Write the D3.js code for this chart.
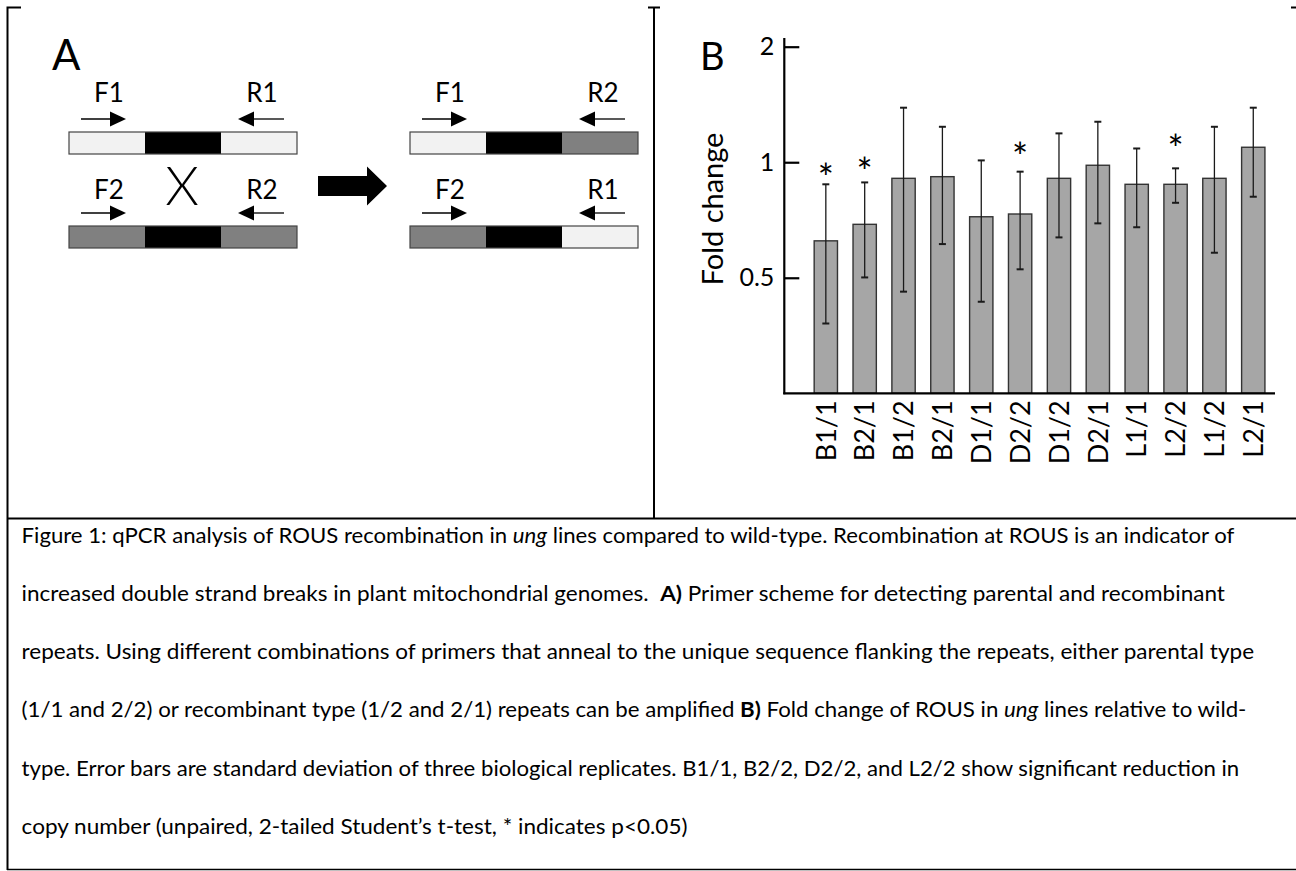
<!DOCTYPE html>
<html lang="en">
  <head>
    <meta charset="utf-8">
    <title>Figure 1: ROUS recombination in ung lines</title>
    <style>
      body {
          margin: 0;
          background: #fff;
      }
      svg {
          display: block;
      }
      text {
          font-family: Lato, "Open Sans", sans-serif;
          fill: #000;
      }
      .caption text {
          white-space: pre;
      }
    </style>
    <script src="https://d3js.org/d3.v7.min.js"></script>
  </head>
  <body>
    <div class="figure"></div>
    <script>

    // panel B values
    const lineLabels = ["B1/1","B2/1","B1/2","B2/1","D1/1","D2/2","D1/2","D2/1","L1/1","L2/2","L1/2","L2/1"];
    const foldChange = [0.624, 0.689, 0.908, 0.917, 0.721, 0.733, 0.908, 0.982, 0.876, 0.876, 0.908, 1.094];
    const errHigh = [0.876, 0.886, 1.387, 1.237, 1.011, 0.945, 1.189, 1.275, 1.086, 0.964, 1.237, 1.387];
    const errLow = [0.380, 0.501, 0.460, 0.612, 0.433, 0.526, 0.637, 0.693, 0.677, 0.784, 0.581, 0.813];
    const starLevel = [0.945, 0.979, null, null, null, 1.069, null, null, null, 1.12, null, null];
    const yTicks = [0.5, 1, 2];

    // panel A scheme
    const parental = [
      { fwd: "F1", rev: "R1", parts: ["unique1", "repeat", "unique1"] },
      { fwd: "F2", rev: "R2", parts: ["unique2", "repeat", "unique2"] }
    ];
    const recombinant = [
      { fwd: "F1", rev: "R2", parts: ["unique1", "repeat", "unique2"] },
      { fwd: "F2", rev: "R1", parts: ["unique2", "repeat", "unique1"] }
    ];

    const caption = [
      [["Figure 1: qPCR analysis of ROUS recombination in "], ["ung", "i"], [" lines compared to wild-type. Recombination at ROUS is an indicator of"]],
      [["increased double strand breaks in plant mitochondrial genomes.  "], ["A)", "b"], [" Primer scheme for detecting parental and recombinant"]],
      [["repeats. Using different combinations of primers that anneal to the unique sequence flanking the repeats, either parental type"]],
      [["(1/1 and 2/2) or recombinant type (1/2 and 2/1) repeats can be amplified "], ["B)", "b"], [" Fold change of ROUS in "], ["ung", "i"], [" lines relative to wild-"]],
      [["type. Error bars are standard deviation of three biological replicates. B1/1, B2/2, D2/2, and L2/2 show significant reduction in"]],
      [["copy number (unpaired, 2-tailed Student\u2019s t-test, * indicates p<0.05)"]]
    ];
    const captionEnds = [1235, 1225, 1254, 1246.7, 1239.3, 687.3];

    const W = 1296, H = 871;

    const svg = d3.select(".figure")
      .append("svg")
      .attr("width", W)
      .attr("height", H);

    // frame
    const frame = svg.append("g")
      .attr("stroke", "#000")
      .attr("fill", "none");

    frame.append("path").attr("d", "M7.5,870V7.5H21").attr("stroke-width", 2);
    frame.append("path").attr("d", "M648,7.5H660M654,7.5V518").attr("stroke-width", 2);
    frame.append("path").attr("d", "M1291,7.5H1296").attr("stroke-width", 2);
    frame.append("path").attr("d", "M7,518.5H1296").attr("stroke-width", 2.2);
    frame.append("path").attr("d", "M7,869.5H1296").attr("stroke-width", 1.6);

    // ---------- panel A ----------
    const a = svg.append("g");

    a.append("text")
      .attr("x", 52)
      .attr("y", 70)
      .style("font-size", "42px")
      .text("A");

    const partColor = d3.scaleOrdinal()
      .domain(["unique1", "repeat", "unique2"])
      .range(["#f2f2f2", "#000000", "#808080"]);

    const strandLen = 228;
    const rowTop = [132, 226];
    const rowLabel = [102, 199];

    const arrowHead = (x, y, dir) => {
      const len = 16, half = 7.5;
      return `M${x},${y}L${x - dir * len},${y - half}L${x - dir * len},${y + half}Z`;
    };

    const drawStrands = (data, x0) => {
      const seg = d3.scaleBand()
        .domain(d3.range(3))
        .range([x0, x0 + strandLen]);

      data.forEach((s, r) => {
        const g = a.append("g");
        const yTop = rowTop[r];

        g.selectAll("rect")
          .data(s.parts)
          .join("rect")
          .attr("x", (d, i) => seg(i))
          .attr("y", yTop)
          .attr("width", seg.bandwidth())
          .attr("height", 22)
          .attr("fill", d => partColor(d));

        g.append("rect")
          .attr("x", x0)
          .attr("y", yTop)
          .attr("width", strandLen)
          .attr("height", 22)
          .attr("fill", "none")
          .attr("stroke", "#444")
          .attr("stroke-width", 1.2);

        const ay = yTop - 13;
        // forward primer
        g.append("line")
          .attr("x1", x0 + 12).attr("x2", x0 + 46)
          .attr("y1", ay).attr("y2", ay)
          .attr("stroke", "#000").attr("stroke-width", 1.5);
        g.append("path").attr("d", arrowHead(x0 + 57, ay, 1)).attr("fill", "#000");
        // reverse primer
        g.append("line")
          .attr("x1", x0 + 181).attr("x2", x0 + 215)
          .attr("y1", ay).attr("y2", ay)
          .attr("stroke", "#222").attr("stroke-width", 1.5);
        g.append("path").attr("d", arrowHead(x0 + 169, ay, -1)).attr("fill", "#000");

        g.append("text")
          .attr("x", x0 + 40)
          .attr("y", rowLabel[r])
          .attr("text-anchor", "middle")
          .style("font-size", "26px")
          .text(s.fwd);
        g.append("text")
          .attr("x", x0 + 193)
          .attr("y", rowLabel[r])
          .attr("text-anchor", "middle")
          .style("font-size", "26px")
          .text(s.rev);
      });
    };

    drawStrands(parental, 69);
    drawStrands(recombinant, 410);

    a.append("text")
      .attr("x", 182)
      .attr("y", 205)
      .attr("text-anchor", "middle")
      .style("font-size", "54px")
      .style("font-weight", 300)
      .text("X");

    a.append("path")
      .attr("d", "M318,176H367V166.5L387,186L367,205.5V196H318Z")
      .attr("fill", "#000");

    // ---------- panel B ----------
    const b = svg.append("g");

    b.append("text")
      .attr("x", 700)
      .attr("y", 70)
      .style("font-size", "38px")
      .text("B");

    const x = d3.scaleBand()
      .domain(d3.range(lineLabels.length))
      .range([806.4, 1272.7])
      .paddingInner(0.4)
      .paddingOuter(0.2);

    const y = d3.scaleLog()
      .base(2)
      .domain([0.25, 2])
      .range([393.3, 46.7]);

    const axisX0 = 784.3;

    // bars
    b.append("g")
      .selectAll("rect")
      .data(foldChange)
      .join("rect")
      .attr("x", (d, i) => x(i))
      .attr("y", d => y(d))
      .attr("width", x.bandwidth())
      .attr("height", d => y(0.25) - y(d))
      .attr("fill", "#a6a6a6")
      .attr("stroke", "#333")
      .attr("stroke-width", 1.4);

    // error bars
    const err = b.append("g")
      .attr("stroke", "#1a1a1a");

    err.selectAll("line.whisker")
      .data(foldChange)
      .join("line")
      .attr("class", "whisker")
      .attr("x1", (d, i) => x(i) + x.bandwidth() / 2)
      .attr("x2", (d, i) => x(i) + x.bandwidth() / 2)
      .attr("y1", (d, i) => y(errLow[i]))
      .attr("y2", (d, i) => y(errHigh[i]))
      .attr("stroke-width", 1.3);

    err.selectAll("line.capHigh")
      .data(errHigh)
      .join("line")
      .attr("class", "capHigh")
      .attr("x1", (d, i) => x(i) + x.bandwidth() / 2 - 3.5)
      .attr("x2", (d, i) => x(i) + x.bandwidth() / 2 + 3.5)
      .attr("y1", d => y(d))
      .attr("y2", d => y(d))
      .attr("stroke-width", 2);

    err.selectAll("line.capLow")
      .data(errLow)
      .join("line")
      .attr("class", "capLow")
      .attr("x1", (d, i) => x(i) + x.bandwidth() / 2 - 3.5)
      .attr("x2", (d, i) => x(i) + x.bandwidth() / 2 + 3.5)
      .attr("y1", d => y(d))
      .attr("y2", d => y(d))
      .attr("stroke-width", 2);

    // significance stars
    b.append("g")
      .selectAll("text")
      .data(starLevel.map((v, i) => ({ v, i })).filter(d => d.v !== null))
      .join("text")
      .attr("x", d => x(d.i) + x.bandwidth() / 2)
      .attr("y", d => y(d.v) + 20)
      .attr("text-anchor", "middle")
      .style("font-size", "38px")
      .text("*");

    // y axis
    const yAxis = d3.axisLeft(y)
      .tickValues(yTicks)
      .tickFormat(d => d)
      .tickSizeInner(-15)
      .tickSizeOuter(0)
      .tickPadding(10);

    const yg = b.append("g")
      .attr("transform", `translate(${axisX0},0)`)
      .call(yAxis);

    yg.select(".domain").remove();
    yg.selectAll(".tick line").attr("stroke", "#000").attr("stroke-width", 2.2);
    yg.selectAll(".tick text")
      .attr("fill", "#000")
      .style("font-family", "Lato, sans-serif")
      .style("font-size", "25px");

    b.append("line")
      .attr("x1", axisX0).attr("x2", axisX0)
      .attr("y1", 38).attr("y2", y(0.25) + 1)
      .attr("stroke", "#000")
      .attr("stroke-width", 2.2);

    // x axis
    const xAxis = d3.axisBottom(x)
      .tickFormat(i => lineLabels[i])
      .tickSize(0);

    const xg = b.append("g")
      .attr("transform", `translate(0,${y(0.25)})`)
      .call(xAxis);

    xg.select(".domain").remove();
    xg.selectAll(".tick text")
      .attr("transform", "rotate(-90)")
      .attr("text-anchor", "end")
      .attr("x", -7)
      .attr("y", 0)
      .attr("dy", "0.36em")
      .attr("fill", "#000")
      .style("font-family", "Lato, sans-serif")
      .style("font-size", "27px");

    b.append("line")
      .attr("x1", axisX0 - 1).attr("x2", 1275)
      .attr("y1", y(0.25)).attr("y2", y(0.25))
      .attr("stroke", "#000")
      .attr("stroke-width", 2.2);

    b.append("text")
      .attr("transform", `translate(722.7,${(133 + 285) / 2}) rotate(-90)`)
      .attr("text-anchor", "middle")
      .style("font-size", "29px")
      .text("Fold change");

    // ---------- caption ----------
    const cap = svg.append("g").attr("class", "caption");
    const captionX = 21.6;

    caption.forEach((parts, i) => {
      const t = cap.append("text")
        .attr("x", 0)
        .attr("y", 0)
        .style("font-size", "21.4px");

      parts.forEach(p => {
        const ts = t.append("tspan").text(p[0]);
        if (p[1] === "i") ts.style("font-style", "italic");
        if (p[1] === "b") ts.style("font-weight", "bold");
      });

      const w = t.node().getComputedTextLength();
      const sx = (captionEnds[i] - captionX) / w;
      t.attr("transform", `translate(${captionX},${542.5 + i * 58.3}) scale(${sx},1)`);
    });

    </script>
  </body>
</html>
